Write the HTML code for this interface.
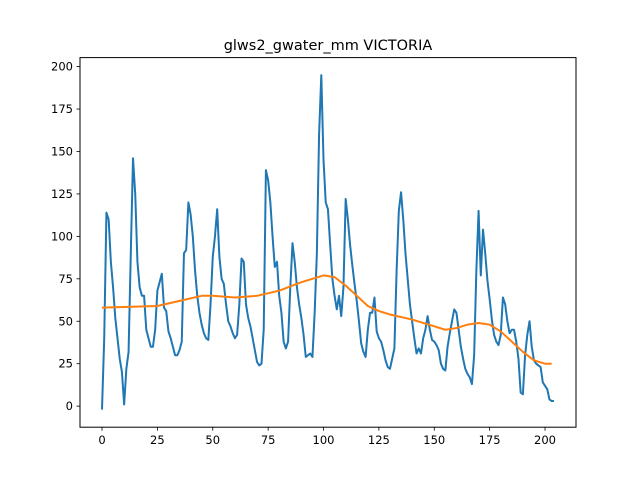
<!DOCTYPE html>
<html><head><meta charset="utf-8"><style>
body{margin:0;background:#fff}
svg{font-family:"DejaVu Sans","Liberation Sans",sans-serif}
</style></head><body>
<svg id="chart" width="640" height="480" viewBox="0 0 640 480">
<rect width="640" height="480" fill="#fff"/>
<text x="328" y="50" text-anchor="middle" font-size="14.5" fill="#000">glws2_gwater_mm VICTORIA</text>
<g id="plot"></g>
<rect x="80" y="57.6" width="496" height="369.6" fill="none" stroke="#000" stroke-width="1"/>
</svg>
<script>
const xTicks=[0,25,50,75,100,125,150,175,200];
const yTicks=[0,25,50,75,100,125,150,175,200];
const rawValues=[-2,40,114,110,85,70,52,40,28,20,1,22,32,90,146,125,85,70,65,65,45,40,35,35,45,68,73,78,58,56,44,40,35,30,30,33,38,90,92,120,113,100,80,65,55,48,43,40,39,60,88,100,116,88,75,72,60,50,47,43,40,42,60,87,85,60,52,47,40,33,26,24,25,45,139,133,120,100,82,85,65,55,38,34,38,70,96,85,70,60,52,42,29,30,31,29,55,90,160,195,145,120,116,95,75,65,57,65,53,70,122,110,95,83,72,62,50,37,32,29,45,55,55,64,44,40,38,33,27,23,22,28,34,80,115,126,110,90,75,60,50,40,31,34,31,40,45,53,45,39,38,36,33,25,22,21,35,43,50,57,55,45,35,28,22,19,17,13,30,80,115,77,104,90,74,63,51,42,38,36,42,64,60,50,43,45,45,38,28,8,7,30,42,50,35,27,25,24,23,14,12,10,4,3,3];
const trendX=[0,25,35,45,50,60,70,80,90,100,105,110,115,120,125,130,140,150,155,160,165,170,175,180,185,190,195,200,203];
const trendY=[58,59,62,65,65,64,65,68,73,77,76,71,65,59,56,54,51,47,45,46,48,49,48,44,38,32,27,25,25];
const X0=80,X1=576,Y0=57.6,Y1=427.2,xMin=-9.93,xMax=213.98,yMin=-12.4,yMax=205.3;
const sx=v=>X0+(v-xMin)/(xMax-xMin)*(X1-X0);
const sy=v=>Y1-(v-yMin)/(yMax-yMin)*(Y1-Y0);
const g=document.getElementById('plot');
const NS='http://www.w3.org/2000/svg';
function mk(t,a){const e=document.createElementNS(NS,t);for(const k in a)e.setAttribute(k,a[k]);g.appendChild(e);return e;}
xTicks.forEach(t=>{
 const l=mk('line',{x1:sx(t),x2:sx(t),y1:Y1,y2:Y1+3.5,stroke:'#000','stroke-width':0.8});
 
 
 const tx=mk('text',{x:sx(t),y:Y1+17,'text-anchor':'middle','font-size':11.5});
 tx.textContent=t;
 
 
});
yTicks.forEach(t=>{
 const l=mk('line',{x1:X0-3.5,x2:X0,y1:sy(t),y2:sy(t),stroke:'#000','stroke-width':0.8});
 
 
 const tx=mk('text',{x:X0-7,y:sy(t)+4,'text-anchor':'end','font-size':11.5});
 tx.textContent=t;
 
 
});
const p1=mk('polyline',{points:rawValues.map((v,i)=>sx(i)+','+sy(v)).join(' '),fill:'none',stroke:'#1f77b4','stroke-width':2,'stroke-linejoin':'round'});


const p2=mk('polyline',{points:trendX.map((x,i)=>sx(x)+','+sy(trendY[i])).join(' '),fill:'none',stroke:'#ff7f0e','stroke-width':2,'stroke-linejoin':'round'});


</script>
</body></html>
